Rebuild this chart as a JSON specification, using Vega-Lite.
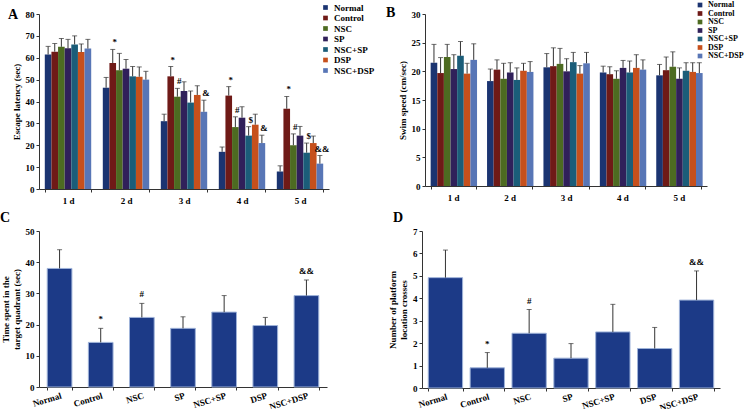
{
  "$schema": "https://vega.github.io/schema/vega-lite/v6.json",
  "padding": {"left": 0, "top": 1, "right": 0, "bottom": 0},
  "background": "white",
  "config": {
    "font": "Liberation Serif",
    "view": {"stroke": null},
    "axis": {"labelFont": "Liberation Serif", "labelFontWeight": "bold", "labelFontSize": 9, "labelColor": "black", "titleFont": "Liberation Serif", "titleFontWeight": "bold", "titleFontSize": 9, "titleColor": "black", "domainColor": "#333", "tickColor": "#333", "tickSize": 3, "grid": false},
    "legend": {"labelFont": "Liberation Serif", "labelFontWeight": "bold", "labelFontSize": 9, "labelColor": "black", "symbolType": "square", "symbolSize": 22, "symbolStrokeWidth": 0, "rowPadding": 0.5, "title": null},
    "title": {"font": "Liberation Serif", "fontWeight": "bold", "fontSize": 14, "color": "black", "anchor": "start", "frame": "group"}
  },
  "datasets": {
    "latency": [
      {"day": "1 d", "group": "Normal", "value": 61.5, "err": 65.2, "sig": ""},
      {"day": "1 d", "group": "Control", "value": 62.8, "err": 66.5, "sig": ""},
      {"day": "1 d", "group": "NSC", "value": 65.0, "err": 68.8, "sig": ""},
      {"day": "1 d", "group": "SP", "value": 64.3, "err": 68.4, "sig": ""},
      {"day": "1 d", "group": "NSC+SP", "value": 66.1, "err": 70.0, "sig": ""},
      {"day": "1 d", "group": "DSP", "value": 62.6, "err": 66.3, "sig": ""},
      {"day": "1 d", "group": "NSC+DSP", "value": 64.2, "err": 68.4, "sig": ""},
      {"day": "2 d", "group": "Normal", "value": 46.3, "err": 51.0, "sig": ""},
      {"day": "2 d", "group": "Control", "value": 57.6, "err": 63.8, "sig": "*"},
      {"day": "2 d", "group": "NSC", "value": 54.3, "err": 62.0, "sig": ""},
      {"day": "2 d", "group": "SP", "value": 55.0, "err": 59.2, "sig": ""},
      {"day": "2 d", "group": "NSC+SP", "value": 51.5, "err": 56.0, "sig": ""},
      {"day": "2 d", "group": "DSP", "value": 51.3, "err": 55.8, "sig": ""},
      {"day": "2 d", "group": "NSC+DSP", "value": 50.0, "err": 53.8, "sig": ""},
      {"day": "3 d", "group": "Normal", "value": 31.0, "err": 34.2, "sig": ""},
      {"day": "3 d", "group": "Control", "value": 51.5, "err": 56.0, "sig": "*"},
      {"day": "3 d", "group": "NSC", "value": 42.2, "err": 46.0, "sig": "#"},
      {"day": "3 d", "group": "SP", "value": 44.8, "err": 49.0, "sig": ""},
      {"day": "3 d", "group": "NSC+SP", "value": 39.5, "err": 44.8, "sig": ""},
      {"day": "3 d", "group": "DSP", "value": 43.0, "err": 47.2, "sig": ""},
      {"day": "3 d", "group": "NSC+DSP", "value": 35.3, "err": 40.6, "sig": "&"},
      {"day": "4 d", "group": "Normal", "value": 17.0, "err": 19.2, "sig": ""},
      {"day": "4 d", "group": "Control", "value": 42.7, "err": 46.8, "sig": "*"},
      {"day": "4 d", "group": "NSC", "value": 28.3, "err": 33.0, "sig": "#"},
      {"day": "4 d", "group": "SP", "value": 32.6, "err": 37.6, "sig": ""},
      {"day": "4 d", "group": "NSC+SP", "value": 24.4, "err": 28.5, "sig": "$"},
      {"day": "4 d", "group": "DSP", "value": 29.4, "err": 34.2, "sig": ""},
      {"day": "4 d", "group": "NSC+DSP", "value": 21.0, "err": 24.6, "sig": "&"},
      {"day": "5 d", "group": "Normal", "value": 8.0, "err": 10.6, "sig": ""},
      {"day": "5 d", "group": "Control", "value": 36.7, "err": 42.3, "sig": "*"},
      {"day": "5 d", "group": "NSC", "value": 20.0, "err": 25.2, "sig": "#"},
      {"day": "5 d", "group": "SP", "value": 24.4, "err": 28.6, "sig": ""},
      {"day": "5 d", "group": "NSC+SP", "value": 16.6, "err": 21.0, "sig": "$"},
      {"day": "5 d", "group": "DSP", "value": 21.0, "err": 24.2, "sig": ""},
      {"day": "5 d", "group": "NSC+DSP", "value": 11.6, "err": 15.3, "sig": "&&"}
    ],
    "speed": [
      {"day": "1 d", "group": "Normal", "value": 21.5, "err": 24.7},
      {"day": "1 d", "group": "Control", "value": 19.7, "err": 22.4},
      {"day": "1 d", "group": "NSC", "value": 22.5, "err": 24.7},
      {"day": "1 d", "group": "SP", "value": 20.4, "err": 22.9},
      {"day": "1 d", "group": "NSC+SP", "value": 22.7, "err": 25.2},
      {"day": "1 d", "group": "DSP", "value": 19.6, "err": 21.4},
      {"day": "1 d", "group": "NSC+DSP", "value": 22.0, "err": 24.8},
      {"day": "2 d", "group": "Normal", "value": 18.3, "err": 20.4},
      {"day": "2 d", "group": "Control", "value": 20.3, "err": 22.0},
      {"day": "2 d", "group": "NSC", "value": 18.7, "err": 21.4},
      {"day": "2 d", "group": "SP", "value": 19.8, "err": 21.5},
      {"day": "2 d", "group": "NSC+SP", "value": 18.5, "err": 20.6},
      {"day": "2 d", "group": "DSP", "value": 20.1, "err": 21.4},
      {"day": "2 d", "group": "NSC+DSP", "value": 19.9, "err": 21.7},
      {"day": "3 d", "group": "Normal", "value": 20.7, "err": 23.1},
      {"day": "3 d", "group": "Control", "value": 20.9, "err": 24.1},
      {"day": "3 d", "group": "NSC", "value": 21.3, "err": 24.0},
      {"day": "3 d", "group": "SP", "value": 20.0, "err": 22.2},
      {"day": "3 d", "group": "NSC+SP", "value": 21.6, "err": 23.3},
      {"day": "3 d", "group": "DSP", "value": 19.6, "err": 21.0},
      {"day": "3 d", "group": "NSC+DSP", "value": 21.4, "err": 23.3},
      {"day": "4 d", "group": "Normal", "value": 19.8, "err": 20.9},
      {"day": "4 d", "group": "Control", "value": 19.5, "err": 20.8},
      {"day": "4 d", "group": "NSC", "value": 18.7, "err": 20.1},
      {"day": "4 d", "group": "SP", "value": 20.6, "err": 21.9},
      {"day": "4 d", "group": "NSC+SP", "value": 19.8, "err": 21.8},
      {"day": "4 d", "group": "DSP", "value": 20.6, "err": 22.9},
      {"day": "4 d", "group": "NSC+DSP", "value": 20.3, "err": 22.0},
      {"day": "5 d", "group": "Normal", "value": 19.3, "err": 21.2},
      {"day": "5 d", "group": "Control", "value": 20.2, "err": 22.5},
      {"day": "5 d", "group": "NSC", "value": 20.8, "err": 23.4},
      {"day": "5 d", "group": "SP", "value": 18.7, "err": 20.6},
      {"day": "5 d", "group": "NSC+SP", "value": 20.1, "err": 21.5},
      {"day": "5 d", "group": "DSP", "value": 19.9, "err": 21.5},
      {"day": "5 d", "group": "NSC+DSP", "value": 19.7, "err": 21.5}
    ],
    "quadrant": [
      {"group": "Normal", "value": 38.0, "err": 44.0, "sig": ""},
      {"group": "Control", "value": 14.3, "err": 18.8, "sig": "*"},
      {"group": "NSC", "value": 22.3, "err": 26.8, "sig": "#"},
      {"group": "SP", "value": 18.8, "err": 22.5, "sig": ""},
      {"group": "NSC+SP", "value": 24.0, "err": 29.3, "sig": ""},
      {"group": "DSP", "value": 19.7, "err": 22.3, "sig": ""},
      {"group": "NSC+DSP", "value": 29.3, "err": 34.3, "sig": "&&"}
    ],
    "crosses": [
      {"group": "Normal", "value": 4.92, "err": 6.15, "sig": ""},
      {"group": "Control", "value": 0.9, "err": 1.58, "sig": "*"},
      {"group": "NSC", "value": 2.44, "err": 3.5, "sig": "#"},
      {"group": "SP", "value": 1.33, "err": 1.98, "sig": ""},
      {"group": "NSC+SP", "value": 2.5, "err": 3.73, "sig": ""},
      {"group": "DSP", "value": 1.76, "err": 2.7, "sig": ""},
      {"group": "NSC+DSP", "value": 3.92, "err": 5.22, "sig": "&&"}
    ]
  },
  "spacing": 6,
  "resolve": {"scale": {"color": "independent"}, "legend": {"color": "independent"}},
  "vconcat": [
    {
      "spacing": 11,
      "resolve": {"scale": {"color": "independent"}, "legend": {"color": "independent"}},
      "hconcat": [
        {
          "title": {"text": "A", "dx": -31, "offset": -19},
          "width": 290,
          "height": 175,
          "data": {"name": "latency"},
          "encoding": {
            "x": {"field": "day", "type": "nominal", "scale": {"paddingInner": 0.2, "paddingOuter": 0.1}, "axis": {"title": null, "labelAngle": 0, "tickBand": "extent", "labelPadding": 4}},
            "xOffset": {"field": "group", "type": "nominal", "sort": ["Normal", "Control", "NSC", "SP", "NSC+SP", "DSP", "NSC+DSP"]}
          },
          "layer": [
            {
              "mark": {"type": "bar"},
              "encoding": {
                "y": {"field": "value", "type": "quantitative", "scale": {"domain": [0, 80]}, "axis": {"title": "Escape latency (sec)", "values": [0, 10, 20, 30, 40, 50, 60, 70, 80]}},
                "color": {"field": "group", "type": "nominal", "sort": ["Normal", "Control", "NSC", "SP", "NSC+SP", "DSP", "NSC+DSP"], "scale": {"domain": ["Normal", "Control", "NSC", "SP", "NSC+SP", "DSP", "NSC+DSP"], "range": ["#1b3471", "#6f1a17", "#4d6b21", "#30205a", "#1b5d79", "#c6501c", "#5876b6"]}, "legend": {"orient": "none", "legendX": 282, "legendY": -11}}
              }
            },
            {"mark": {"type": "rule", "color": "#333", "strokeWidth": 1}, "encoding": {"y": {"field": "value", "type": "quantitative", "axis": {"title": "Escape latency (sec)", "values": [0, 10, 20, 30, 40, 50, 60, 70, 80]}}, "y2": {"field": "err"}}},
            {"mark": {"type": "tick", "color": "#333", "size": 5, "thickness": 1}, "encoding": {"y": {"field": "err", "type": "quantitative", "axis": {"title": "Escape latency (sec)", "values": [0, 10, 20, 30, 40, 50, 60, 70, 80]}}}},
            {"mark": {"type": "text", "dy": -7, "dx": 2, "fontWeight": "bold", "fontSize": 9, "color": "black"}, "encoding": {"y": {"field": "err", "type": "quantitative", "axis": {"title": "Escape latency (sec)", "values": [0, 10, 20, 30, 40, 50, 60, 70, 80]}}, "text": {"field": "sig"}}}
          ]
        },
        {
          "title": {"text": "B", "dx": -39, "offset": -19},
          "width": 282,
          "height": 172,
          "data": {"name": "speed"},
          "encoding": {
            "x": {"field": "day", "type": "nominal", "scale": {"paddingInner": 0.2, "paddingOuter": 0.1}, "axis": {"title": null, "labelAngle": 0, "tickBand": "extent", "labelPadding": 4}},
            "xOffset": {"field": "group", "type": "nominal", "sort": ["Normal", "Control", "NSC", "SP", "NSC+SP", "DSP", "NSC+DSP"]}
          },
          "layer": [
            {
              "mark": {"type": "bar"},
              "encoding": {
                "y": {"field": "value", "type": "quantitative", "scale": {"domain": [0, 30]}, "axis": {"title": "Swim speed (cm/sec)", "values": [0, 5, 10, 15, 20, 25, 30]}},
                "color": {"field": "group", "type": "nominal", "sort": ["Normal", "Control", "NSC", "SP", "NSC+SP", "DSP", "NSC+DSP"], "scale": {"domain": ["Normal", "Control", "NSC", "SP", "NSC+SP", "DSP", "NSC+DSP"], "range": ["#1b3471", "#6f1a17", "#4d6b21", "#30205a", "#1b5d79", "#c6501c", "#5876b6"]}, "legend": {"orient": "none", "legendX": 271, "legendY": -13, "labelFontSize": 8}}
              }
            },
            {"mark": {"type": "rule", "color": "#333", "strokeWidth": 1}, "encoding": {"y": {"field": "value", "type": "quantitative", "axis": {"title": "Swim speed (cm/sec)", "values": [0, 5, 10, 15, 20, 25, 30]}}, "y2": {"field": "err"}}},
            {"mark": {"type": "tick", "color": "#333", "size": 5, "thickness": 1}, "encoding": {"y": {"field": "err", "type": "quantitative", "axis": {"title": "Swim speed (cm/sec)", "values": [0, 5, 10, 15, 20, 25, 30]}}}}
          ]
        }
      ]
    },
    {
      "spacing": 61,
      "hconcat": [
        {
          "title": {"text": "C", "dx": -39, "offset": 2},
          "width": 288,
          "height": 156,
          "data": {"name": "quadrant"},
          "encoding": {
            "x": {"field": "group", "type": "nominal", "sort": ["Normal", "Control", "NSC", "SP", "NSC+SP", "DSP", "NSC+DSP"], "scale": {"paddingInner": 0.4, "paddingOuter": 0.2}, "axis": {"title": null, "labelAngle": -17, "tickBand": "extent", "labelPadding": 1}}
          },
          "layer": [
            {"mark": {"type": "bar", "color": "#1c3a87", "stroke": "#9fb3d9", "strokeWidth": 1}, "encoding": {"y": {"field": "value", "type": "quantitative", "scale": {"domain": [0, 50]}, "axis": {"title": ["Time spent in the", "target quadrant (sec)"], "values": [0, 10, 20, 30, 40, 50]}}}},
            {"mark": {"type": "rule", "color": "#333", "strokeWidth": 1}, "encoding": {"y": {"field": "value", "type": "quantitative", "axis": {"title": ["Time spent in the", "target quadrant (sec)"], "values": [0, 10, 20, 30, 40, 50]}}, "y2": {"field": "err"}}},
            {"mark": {"type": "tick", "color": "#333", "size": 5, "thickness": 1}, "encoding": {"y": {"field": "err", "type": "quantitative", "axis": {"title": ["Time spent in the", "target quadrant (sec)"], "values": [0, 10, 20, 30, 40, 50]}}}},
            {"mark": {"type": "text", "dy": -9, "fontWeight": "bold", "fontSize": 9, "color": "black"}, "encoding": {"y": {"field": "err", "type": "quantitative", "axis": {"title": ["Time spent in the", "target quadrant (sec)"], "values": [0, 10, 20, 30, 40, 50]}}, "text": {"field": "sig"}}}
          ]
        },
        {
          "title": {"text": "D", "dx": -29, "offset": 2},
          "width": 298,
          "height": 157,
          "data": {"name": "crosses"},
          "encoding": {
            "x": {"field": "group", "type": "nominal", "sort": ["Normal", "Control", "NSC", "SP", "NSC+SP", "DSP", "NSC+DSP"], "scale": {"paddingInner": 0.18, "paddingOuter": 0.15}, "axis": {"title": null, "labelAngle": -17, "tickBand": "extent", "labelPadding": 1}}
          },
          "layer": [
            {"mark": {"type": "bar", "color": "#1c3a87", "stroke": "#9fb3d9", "strokeWidth": 1}, "encoding": {"y": {"field": "value", "type": "quantitative", "scale": {"domain": [0, 7]}, "axis": {"title": ["Number of platform", "location crosses"], "values": [0, 1, 2, 3, 4, 5, 6, 7]}}}},
            {"mark": {"type": "rule", "color": "#333", "strokeWidth": 1}, "encoding": {"y": {"field": "value", "type": "quantitative", "axis": {"title": ["Number of platform", "location crosses"], "values": [0, 1, 2, 3, 4, 5, 6, 7]}}, "y2": {"field": "err"}}},
            {"mark": {"type": "tick", "color": "#333", "size": 5, "thickness": 1}, "encoding": {"y": {"field": "err", "type": "quantitative", "axis": {"title": ["Number of platform", "location crosses"], "values": [0, 1, 2, 3, 4, 5, 6, 7]}}}},
            {"mark": {"type": "text", "dy": -9, "fontWeight": "bold", "fontSize": 9, "color": "black"}, "encoding": {"y": {"field": "err", "type": "quantitative", "axis": {"title": ["Number of platform", "location crosses"], "values": [0, 1, 2, 3, 4, 5, 6, 7]}}, "text": {"field": "sig"}}}
          ]
        }
      ]
    }
  ]
}
